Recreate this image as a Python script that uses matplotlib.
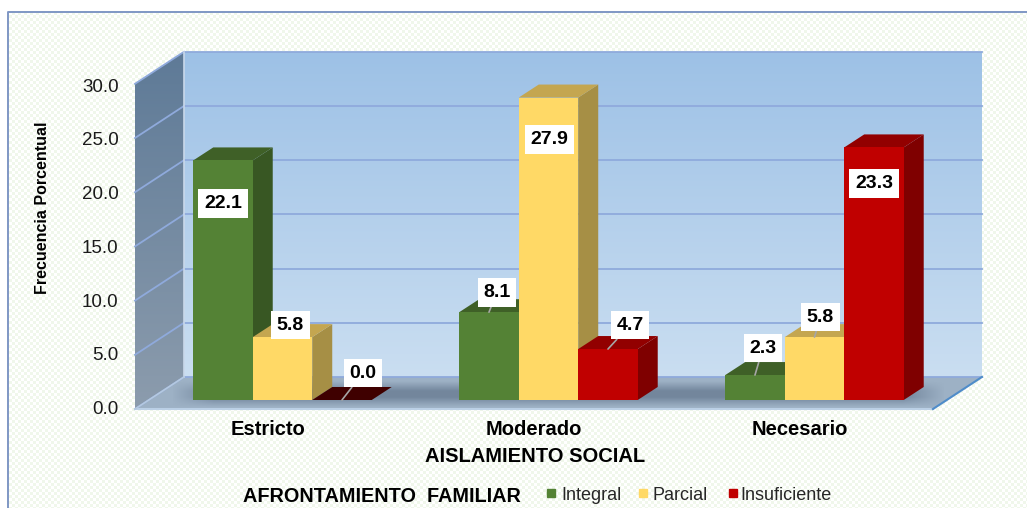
#!/usr/bin/env python3
import numpy as np
import matplotlib
matplotlib.use('Agg')
import matplotlib.pyplot as plt
from matplotlib.patches import Polygon
from matplotlib.transforms import Affine2D

plt.rcParams['font.family'] = ['Liberation Sans', 'DejaVu Sans']

categories = ['Estricto', 'Moderado', 'Necesario']
series = ['Integral', 'Parcial', 'Insuficiente']
integral = [22.1, 8.1, 2.3]
parcial = [5.8, 27.9, 5.8]
insuficiente = [0.0, 4.7, 23.3]
y_ticks = [0, 5, 10, 15, 20, 25, 30]

# (front, top, side)
colors = [('#548235', '#3F6027', '#385723'),
          ('#FFD966', '#C4A650', '#A68F45'),
          ('#C00000', '#920000', '#7F0000')]

# label offset from the top centre of each bar, in pixels
label_offsets = [[(0, -43), (8, 12), (21, 27)],
                 [(8, 20), (1, -42), (22, 24)],
                 [(8, 27), (6, 20), (0, -36)]]

W, H = 1027, 508
fig = plt.figure(figsize=(W / 100, H / 100), dpi=100)
ax = fig.add_axes([0, 0, 1, 1])
ax.axis('off')

# texture and frame, pixel coordinates from the top left
top_px = Affine2D().scale(1, -1).translate(0, H)
yy, xx = np.mgrid[0:H, 0:W]
dots = ((xx // 3 + yy // 3) % 2 == 0)
tex = np.ones((H, W, 3))
tex[dots] = np.array([0.945, 0.97, 0.925])
tex[:12] = 1
tex[:, :8] = 1
ax.imshow(tex, extent=(-1.062, 2.799, -9.963, 36.9), aspect='auto', zorder=0)

XU, YU = 266.0, 10.83          # pixels per category / per value
bar_w = 59.5 / XU
bar_dx, bar_dy = 20 / XU, 13 / YU
wall_dx, wall_dy = 49 / XU, 32 / YU
x_left, x_right = (135 - 282.5) / XU, (933 - 282.5) / XU
base = -9 / YU


def gradient(poly, top_col, bot_col, z):
    c0 = np.array(matplotlib.colors.to_rgb(top_col))
    c1 = np.array(matplotlib.colors.to_rgb(bot_col))
    t = np.linspace(0, 1, 128)[:, None, None]
    grad = c0 * (1 - t) + c1 * t
    xs = [p[0] for p in poly]
    ys = [p[1] for p in poly]
    im = ax.imshow(grad, extent=(min(xs), max(xs), min(ys), max(ys)),
                   aspect='auto', zorder=z)
    clip = Polygon(poly, transform=ax.transData, fc='none', ec='none')
    ax.add_patch(clip)
    im.set_clip_path(clip)


# back wall
back = [(x_left + wall_dx, base + wall_dy), (x_right + wall_dx, base + wall_dy),
        (x_right + wall_dx, 30 + base + wall_dy), (x_left + wall_dx, 30 + base + wall_dy)]
gradient(back, '#9DC1E6', '#CADEF1', 1)
# side wall
side = [(x_left, base), (x_left + wall_dx, base + wall_dy),
        (x_left + wall_dx, 30 + base + wall_dy), (x_left, 30 + base)]
gradient(side, '#5E7A97', '#8C9CAD', 1)
# floor
floor = [(x_left, base), (x_right, base), (x_right + wall_dx, base + wall_dy),
         (x_left + wall_dx, base + wall_dy)]
ax.add_patch(Polygon(floor, fc='#9DB1C5', ec='none', zorder=1))

# shadow on the floor under the bars
sy, sx = np.mgrid[0:64, 0:400]
edge_x = np.clip(np.minimum(sx, 399 - sx) / 22.0, 0, 1)
edge_y = np.clip(np.minimum(sy, 63 - sy) / 24.0, 0, 1)
shade = np.zeros((64, 400, 4))
shade[..., :3] = (0.25, 0.32, 0.42)
shade[..., 3] = 0.45 * edge_x * edge_y
sh = ax.imshow(shade, extent=(-0.42, 2.49, base + 0.2, base + wall_dy - 0.4),
               aspect='auto', zorder=1.5)

for t in y_ticks:
    y = t + base
    lw = 1.3
    ax.plot([x_left, x_left + wall_dx], [y, y + wall_dy], color='#8FAADC', lw=lw, zorder=2)
    ax.plot([x_left + wall_dx, x_right + wall_dx], [y + wall_dy, y + wall_dy],
            color='#8FAADC', lw=lw, zorder=2)
    ax.text(118.5 / XU - 282.5 / XU, t * 0.991 - 9.5 / YU, f'{t:.1f}', ha='right', va='center',
            fontsize=13.5, color='#1A1A1A', zorder=6)

ax.plot([x_left + wall_dx, x_left + wall_dx], [base + wall_dy, 30 + base + wall_dy],
        color='#C9D8EA', lw=1.2, zorder=2)
ax.plot([x_left, x_right], [base, base], color='#BBD0E6', lw=1.5, zorder=2)
ax.plot([x_left, x_left + wall_dx], [base, base + wall_dy], color='#B5C9E0', lw=1.2, zorder=2)
ax.plot([x_right, x_right + wall_dx], [base, base + wall_dy], color='#4F8CC9', lw=1.5, zorder=2)

# bars, painted left to right
values = [integral, parcial, insuficiente]
z = 3.0
for g in range(len(categories)):
    for s in range(len(series)):
        v = values[s][g]
        x0 = g + (s - 1.5) * bar_w
        x1 = x0 + bar_w
        front, top, sd = colors[s]
        if v == 0:
            top = '#3F0000'
        ax.add_patch(Polygon([(x1, 0), (x1 + bar_dx, bar_dy), (x1 + bar_dx, v + bar_dy), (x1, v)],
                             fc=sd, ec='none', zorder=z))
        ax.add_patch(Polygon([(x0, v), (x1, v), (x1 + bar_dx, v + bar_dy), (x0 + bar_dx, v + bar_dy)],
                             fc=top, ec='none', zorder=z))
        ax.bar(x0, v, width=bar_w, align='edge', color=front, zorder=z + 0.1)
        z += 0.2

for g in range(len(categories)):
    for s in range(len(series)):
        v = values[s][g]
        x0 = g + (s - 1.5) * bar_w
        off = label_offsets[g][s]
        # labels sitting inside their bar have no leader line
        arrow = None
        if off[1] > 0:
            arrow = dict(arrowstyle='-', color='#A6A6A6', lw=1.2, shrinkA=0, shrinkB=0)
        ax.annotate(f'{v:.1f}', xy=(x0 + bar_w / 2, v), xytext=off,
                    textcoords='offset pixels', ha='center', va='center',
                    fontsize=14, fontweight='bold', color='black', zorder=8,
                    bbox=dict(boxstyle='square,pad=0.3', fc='white', ec='none'),
                    arrowprops=arrow)

ax.set_xlim(-1.062, 2.799)
ax.set_ylim(-9.963, 36.9)

# frame
ax.plot([8, 8, W], [H, 12, 12], color='#7F97C4', lw=1.4, transform=top_px, zorder=9)

# texts
for g, name in enumerate(categories):
    ax.text(g - 14.5 / XU, -29.5 / YU, name, ha='center', va='center', fontsize=14.5,
            fontweight='bold', color='black')
ax.text(535, 456, 'AISLAMIENTO SOCIAL', transform=top_px, ha='center', va='center',
        fontsize=14.5, fontweight='bold', color='black')
ax.text(42.5, 208, 'Frecuencia Porcentual', transform=top_px, rotation=90, ha='center',
        va='center', fontsize=11.5, fontweight='bold', color='black')
ax.text(382, 497, 'AFRONTAMIENTO  FAMILIAR', transform=top_px, ha='center', va='center',
        fontsize=14.3, fontweight='bold', color='black')

legend_x = [551, 643, 733]
legend_text_x = [561, 652, 740]
for name, cols, lx, tx in zip(series, colors, legend_x, legend_text_x):
    ax.plot([lx], [493], marker='s', ms=6, color=cols[0], ls='none', transform=top_px, zorder=6)
    ax.text(tx, 495, name, transform=top_px, ha='left', va='center', fontsize=13,
            color='#262626')

fig.savefig('out.png', dpi=100)
